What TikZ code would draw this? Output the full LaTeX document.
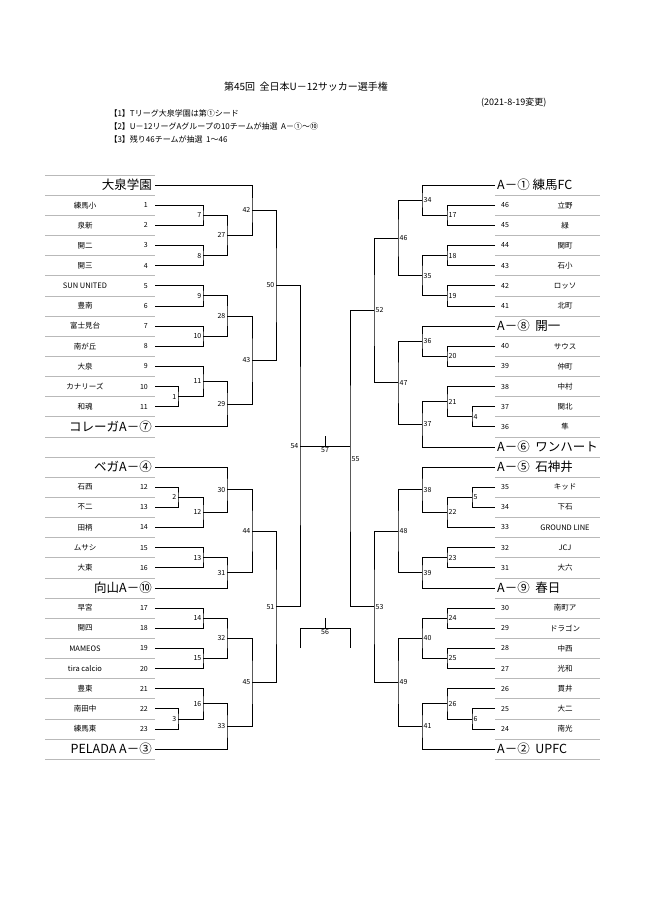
\documentclass[tikz,border=0pt]{standalone}
\usepackage{fontspec}
\setmainfont{Noto Sans CJK JP}
\usetikzlibrary{calc}

\tikzset{
  bline/.style={line width=0.7pt},
  sep/.style={gray!55, line width=0.8pt},
  sname/.style={font=\fontsize{7.5}{8}\selectfont, inner sep=0pt},
  snum/.style={font=\fontsize{7}{8}\selectfont, inner sep=0pt},
  bname/.style={font=\fontsize{12.5}{13}\selectfont, inner sep=0pt},
  lbl/.style={font=\fontsize{7}{8}\selectfont, inner sep=1.5pt},
}
% bracket: name, x, upper, lower, label, label anchor
\newcommand{\bout}[6]{%
  \path let \p1=(#3), \p2=(#4) in coordinate (#1) at (#2pt, {0.5*(\y1+\y2)});
  \draw[bline] (#3) -| (#1) |- (#4);
  \node[lbl, anchor=#6] at (#1) {#5};}

\begin{document}
\begin{tikzpicture}[x=1pt, y=-1pt]
    \useasboundingbox[fill=white] (0,0) rectangle (650,919);

    % Heading
    \node[font=\fontsize{10}{11}\selectfont] (title) at (306,87) {第45回\ \ 全日本U－12サッカー選手権};
    \node[font=\fontsize{9}{10}\selectfont, anchor=east] (date) at (550,103) {(2021-8-19変更)};
    \node[font=\fontsize{8}{13}\selectfont, anchor=north west, align=left] (notes) at (106,106)
      {【1】Tリーグ大泉学園は第①シード\\【2】U－12リーグAグループの10チームが抽選\ \ A－①～⑩\\【3】残り46チームが抽選\ \ 1～46};

    % Row lines
    \foreach \i in {0,...,13} \draw[sep] (45,{175+20.15*\i}) -- (155,{175+20.15*\i});
    \foreach \i in {0,...,15} \draw[sep] (45,{457+20.15*\i}) -- (155,{457+20.15*\i});
    \foreach \i in {1,...,14} \draw[sep] (495,{175+20.15*\i}) -- (600,{175+20.15*\i});
    \foreach \i in {1,...,15} \draw[sep] (495,{457+20.15*\i}) -- (600,{457+20.15*\i});

    % Left teams
    \foreach \nm/\n/\i in {練馬小/1/1, 泉新/2/2, 開二/3/3, 開三/4/4, SUN UNITED/5/5, 豊南/6/6,
        富士見台/7/7, 南が丘/8/8, 大泉/9/9, カナリーズ/10/10, 和魂/11/11} {
      \node[sname] (N\n) at (85,{185+20.15*\i}) {\nm};
      \node[snum, anchor=east] at (148,{185+20.15*\i}) {\n};
      \coordinate (T\n) at (155,{185+20.15*\i});
    }
    \foreach \nm/\n/\i in {石西/12/1, 不二/13/2, 田柄/14/3, ムサシ/15/4, 大東/16/5, 早宮/17/7,
        開四/18/8, MAMEOS/19/9, tira calcio/20/10, 豊東/21/11, 南田中/22/12, 練馬東/23/13} {
      \node[sname] (N\n) at (85,{467+20.15*\i}) {\nm};
      \node[snum, anchor=east] at (148,{467+20.15*\i}) {\n};
      \coordinate (T\n) at (155,{467+20.15*\i});
    }
    % Right teams
    \foreach \nm/\n/\i in {立野/46/1, 緑/45/2, 関町/44/3, 石小/43/4, ロッソ/42/5, 北町/41/6,
        サウス/40/8, 仲町/39/9, 中村/38/10, 関北/37/11, 隼/36/12} {
      \node[sname] (N\n) at (565,{185+20.15*\i}) {\nm};
      \node[snum, anchor=west] at (501,{185+20.15*\i}) {\n};
      \coordinate (T\n) at (495,{185+20.15*\i});
    }
    \foreach \nm/\n/\i in {キッド/35/1, 下石/34/2, GROUND LINE/33/3, JCJ/32/4, 大六/31/5,
        南町ア/30/7, ドラゴン/29/8, 中西/28/9, 光和/27/10, 貫井/26/11, 大二/25/12, 南光/24/13} {
      \node[sname] (N\n) at (565,{467+20.15*\i}) {\nm};
      \node[snum, anchor=west] at (501,{467+20.15*\i}) {\n};
      \coordinate (T\n) at (495,{467+20.15*\i});
    }

    % Seeds
    \foreach \nm/\s/\y in {大泉学園/S0/185, コレーガA－⑦/S7/{185+20.15*12},
        ベガA－④/S4/467, 向山A－⑩/S10/{467+20.15*6}, PELADA A－③/S3/{467+20.15*14}} {
      \node[bname, anchor=east] (N\s) at (152,\y) {\nm};
      \coordinate (\s) at (155,\y);
    }
    \foreach \nm/\s/\y in {A－①\ 練馬FC/S1/185, A－⑧\ \ 開一/S8/{185+20.15*7},
        A－⑥\ \ ワンハート/S6/{185+20.15*13}, A－⑤\ \ 石神井/S5/467,
        A－⑨\ \ 春日/S9/{467+20.15*6}, A－②\ \ UPFC/S2/{467+20.15*14}} {
      \node[bname, anchor=west] (N\s) at (497,\y) {\nm};
      \coordinate (\s) at (495,\y);
    }

    % Left brackets
    \bout{m7}{203}{T1}{T2}{7}{east}
    \bout{m8}{203}{T3}{T4}{8}{east}
    \bout{m27}{227}{m7}{m8}{27}{east}
    \bout{m42}{252}{S0}{m27}{42}{east}
    \bout{m9}{203}{T5}{T6}{9}{east}
    \bout{m10}{203}{T7}{T8}{10}{east}
    \bout{m28}{227}{m9}{m10}{28}{east}
    \bout{m1}{178}{T10}{T11}{1}{east}
    \bout{m11}{203}{T9}{m1}{11}{east}
    \bout{m29}{227}{m11}{S7}{29}{east}
    \bout{m43}{252}{m28}{m29}{43}{east}
    \bout{m50}{276}{m42}{m43}{50}{east}
    \bout{m2}{178}{T12}{T13}{2}{east}
    \bout{m12}{203}{m2}{T14}{12}{east}
    \bout{m30}{227}{S4}{m12}{30}{east}
    \bout{m13}{203}{T15}{T16}{13}{east}
    \bout{m31}{227}{m13}{S10}{31}{east}
    \bout{m44}{252}{m30}{m31}{44}{east}
    \bout{m14}{203}{T17}{T18}{14}{east}
    \bout{m15}{203}{T19}{T20}{15}{east}
    \bout{m32}{227}{m14}{m15}{32}{east}
    \bout{m3}{178}{T22}{T23}{3}{east}
    \bout{m16}{203}{T21}{m3}{16}{east}
    \bout{m33}{227}{m16}{S3}{33}{east}
    \bout{m45}{252}{m32}{m33}{45}{east}
    \bout{m51}{276}{m44}{m45}{51}{east}
    \bout{m54}{300}{m50}{m51}{54}{east}

    % Right brackets
    \bout{m17}{447}{T46}{T45}{17}{west}
    \bout{m34}{422}{S1}{m17}{34}{west}
    \bout{m18}{447}{T44}{T43}{18}{west}
    \bout{m19}{447}{T42}{T41}{19}{west}
    \bout{m35}{422}{m18}{m19}{35}{west}
    \bout{m46}{398}{m34}{m35}{46}{west}
    \bout{m20}{447}{T40}{T39}{20}{west}
    \bout{m36}{422}{S8}{m20}{36}{west}
    \bout{m4}{472}{T37}{T36}{4}{west}
    \bout{m21}{447}{T38}{m4}{21}{west}
    \bout{m37}{422}{m21}{S6}{37}{west}
    \bout{m47}{398}{m36}{m37}{47}{west}
    \bout{m52}{374}{m46}{m47}{52}{west}
    \bout{m5}{472}{T35}{T34}{5}{west}
    \bout{m22}{447}{m5}{T33}{22}{west}
    \bout{m38}{422}{S5}{m22}{38}{west}
    \bout{m23}{447}{T32}{T31}{23}{west}
    \bout{m39}{422}{m23}{S9}{39}{west}
    \bout{m48}{398}{m38}{m39}{48}{west}
    \bout{m24}{447}{T30}{T29}{24}{west}
    \bout{m25}{447}{T28}{T27}{25}{west}
    \bout{m40}{422}{m24}{m25}{40}{west}
    \bout{m6}{472}{T25}{T24}{6}{west}
    \bout{m26}{447}{T26}{m6}{26}{west}
    \bout{m41}{422}{m26}{S2}{41}{west}
    \bout{m49}{398}{m40}{m41}{49}{west}
    \bout{m53}{374}{m48}{m49}{53}{west}
    \bout{m55}{350}{m52}{m53}{55}{west}

    % Final and third place
    \coordinate (e55) at (m54 -| m55);
    \draw[bline] (m54) -- coordinate[pos=0.5] (f57) (e55);
    \draw[bline] (f57) -- ++(0,-10);
    \node[lbl, anchor=north] at (f57) {57};
    \coordinate (a56) at (300,648);
    \coordinate (b56) at (350,648);
    \draw[bline] (a56) |- coordinate[pos=0.75] (f56) ($(b56)+(0,-20)$) -- (b56);
    \draw[bline] (f56) -- ++(0,-10);
    \node[lbl, anchor=north] at (f56) {56};
\end{tikzpicture}
\end{document}
